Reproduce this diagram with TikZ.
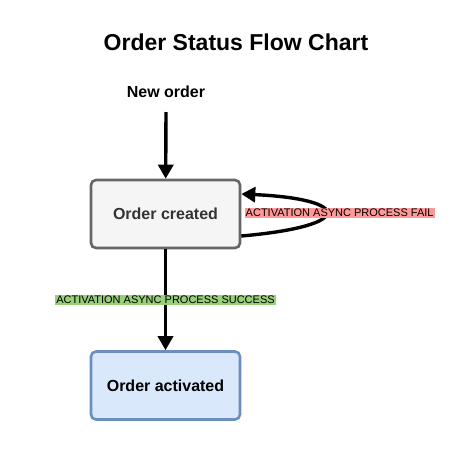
\documentclass[tikz,border=0pt]{standalone}
\usepackage{fontspec}
\setmainfont{Liberation Sans}
\usepackage{xcolor}
\usepackage{tikz}
\usetikzlibrary{positioning,arrows.meta}

\definecolor{greybox}{HTML}{F5F5F5}
\definecolor{greyline}{HTML}{666666}
\definecolor{bluebox}{HTML}{DAE8FC}
\definecolor{blueline}{HTML}{6C8EBF}
\definecolor{failred}{HTML}{FF9999}
\definecolor{okgreen}{HTML}{97D077}

\begin{document}
\begin{tikzpicture}[x=1pt,y=-1pt,
  state/.style={draw, rounded corners=5pt, line width=2.6pt, minimum width=149pt, minimum height=68pt, font=\fontsize{16}{19}\selectfont\bfseries},
  flow/.style={line width=3.4pt, -{Triangle[length=14pt,width=15pt]}},
  tag/.style={inner sep=1pt, font=\fontsize{11}{13}\selectfont}]
\useasboundingbox (0,0) rectangle (461,451);
\node[font=\fontsize{23}{27}\selectfont\bfseries] (title) at (236,42) {Order Status Flow Chart};
\node[font=\fontsize{16}{19}\selectfont\bfseries] (new) at (166,92) {New order};
\node[state, fill=greybox, draw=greyline, text=black!80] (created) at (165.5,214) {Order created};
\node[state, fill=bluebox, draw=blueline] (activated) at (165.5,385.5) {Order activated};
\coordinate (start) at (166,112);
\draw[flow] (start) -- (created);
\draw[flow] (created) -- node[tag, fill=okgreen] (oktxt) {ACTIVATION ASYNC PROCESS SUCCESS} (activated);
\draw[flow] ([yshift=-22pt]created.east) .. controls +(115pt,10pt) and +(110pt,-5pt) .. node[pos=0.5, tag, fill=failred, xshift=14pt] (failtxt) {ACTIVATION ASYNC PROCESS FAIL} ([yshift=20pt]created.east);
\end{tikzpicture}
\end{document}
